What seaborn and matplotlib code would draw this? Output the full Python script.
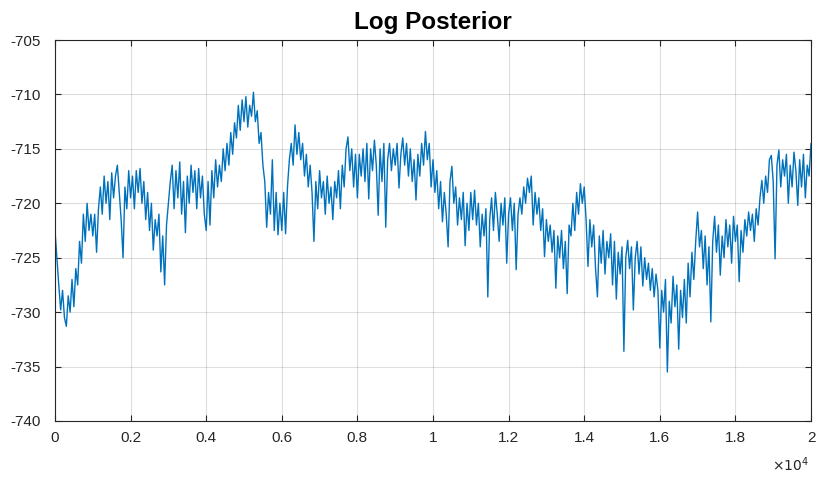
import numpy as np
import pandas as pd
import matplotlib
matplotlib.use("Agg")
import matplotlib.pyplot as plt
import seaborn as sns

# ---- data (one value every 50 iterations) ----
step = 50
log_post = [
    # 0 - 950
    -722.5, -725.0, -727.5, -729.8, -728.0, -730.5, -731.3, -728.5, -730.0, -727.0,
    -729.5, -726.0, -727.5, -723.5, -725.5, -721.0, -723.5, -720.0, -722.5, -721.0,
    # 1000 - 1950
    -723.0, -721.0, -724.5, -720.5, -718.5, -721.0, -717.5, -720.0, -718.0, -721.5,
    -717.2, -719.5, -717.5, -716.5, -719.0, -721.5, -725.0, -718.5, -720.5, -717.0,
    # 2000 - 2950
    -719.5, -717.5, -720.5, -717.0, -719.0, -716.8, -720.0, -718.0, -721.5, -719.0,
    -722.5, -720.0, -724.3, -721.5, -723.0, -721.0, -726.3, -723.0, -727.5, -722.0,
    # 3000 - 3950
    -720.0, -718.0, -716.5, -720.5, -717.0, -719.5, -716.2, -721.0, -718.0, -722.7,
    -717.5, -720.0, -716.5, -719.0, -717.0, -720.5, -716.8, -719.5, -717.5, -721.0,
    # 4000 - 4950
    -722.5, -718.0, -722.0, -717.0, -719.5, -716.0, -718.5, -716.5, -718.0, -715.0,
    -717.0, -714.5, -716.5, -713.5, -715.5, -712.6, -714.0, -711.0, -713.3, -710.5,
    # 5000 - 5950
    -712.5, -710.2, -713.0, -711.0, -712.0, -709.8, -712.5, -711.5, -714.5, -713.5,
    -716.5, -718.0, -722.2, -719.0, -721.0, -716.0, -722.5, -719.0, -722.9, -720.0,
    # 6000 - 6950
    -722.5, -719.0, -722.8, -718.5, -716.0, -714.5, -716.5, -712.8, -715.5, -713.5,
    -716.0, -714.5, -717.5, -715.5, -718.5, -716.5, -719.0, -723.5, -718.0, -720.5,
    # 7000 - 7950
    -717.0, -719.5, -718.0, -721.0, -717.5, -720.0, -718.5, -721.5, -718.0, -719.5,
    -717.0, -720.5, -716.5, -718.5, -715.0, -713.9, -717.0, -715.0, -718.5, -715.5,
    # 8000 - 8950
    -719.5, -715.5, -717.5, -715.0, -718.0, -714.5, -719.6, -715.0, -717.0, -714.2,
    -716.5, -721.1, -715.0, -718.0, -714.5, -722.2, -716.0, -714.5, -717.0, -715.0,
    # 9000 - 9950
    -716.5, -714.5, -718.6, -715.5, -714.0, -716.5, -714.5, -717.5, -715.0, -718.0,
    -716.0, -719.7, -715.5, -717.5, -714.5, -716.5, -713.4, -716.0, -714.5, -718.5,
    # 10000 - 10950
    -716.0, -719.0, -717.0, -720.5, -718.0, -721.7, -719.0, -721.0, -724.0, -718.0,
    -716.6, -720.0, -718.5, -722.0, -719.5, -721.5, -719.0, -723.9, -720.0, -722.5,
    # 11000 - 11950
    -719.0, -721.5, -718.8, -722.0, -720.0, -724.0, -721.0, -723.0, -720.5, -728.6,
    -721.5, -719.5, -722.5, -719.0, -721.0, -723.5, -720.0, -722.0, -719.5, -725.5,
    # 12000 - 12950
    -721.0, -719.5, -722.5, -720.0, -726.1, -721.0, -719.5, -721.0, -718.5, -720.0,
    -717.7, -719.0, -717.5, -722.0, -719.0, -721.0, -719.5, -722.5, -720.5, -724.9,
    # 13000 - 13950
    -721.5, -723.5, -722.0, -724.5, -722.5, -727.8, -723.0, -725.0, -722.5, -726.0,
    -723.5, -728.3, -722.0, -723.0, -720.0, -722.5, -719.0, -721.0, -718.2, -720.0,
    # 14000 - 14950
    -718.5, -721.5, -725.8, -721.5, -724.0, -722.0, -726.0, -728.6, -723.0, -725.5,
    -722.5, -726.5, -723.5, -725.0, -722.8, -727.5, -723.5, -728.8, -724.5, -726.5,
    # 15000 - 15950
    -724.0, -733.6, -725.0, -723.4, -726.0, -724.0, -729.8, -725.0, -723.5, -726.5,
    -724.0, -727.6, -725.0, -727.0, -725.5, -728.0, -726.0, -728.6, -726.5, -728.0,
    # 16000 - 16950
    -733.3, -728.0, -730.0, -727.0, -735.5, -729.0, -731.0, -726.7, -729.5, -727.5,
    -733.4, -728.0, -730.5, -727.0, -731.0, -725.5, -728.6, -724.5, -727.0, -723.5,
    # 17000 - 17950
    -720.8, -724.0, -722.5, -726.0, -723.0, -727.5, -724.0, -730.9, -723.5, -721.2,
    -724.5, -722.0, -726.6, -723.0, -725.0, -721.5, -724.0, -722.0, -725.5, -721.2,
    # 18000 - 18950
    -723.5, -722.0, -727.2, -722.5, -724.5, -721.5, -723.0, -720.8, -722.5, -721.0,
    -723.5, -720.5, -722.0, -719.5, -717.9, -720.0, -717.5, -719.0, -716.0, -715.6,
    # 19000 - 20000
    -718.0, -725.1, -716.5, -715.1, -718.5, -716.0, -717.5, -715.5, -720.0, -716.5,
    -718.5, -715.3, -717.0, -720.2, -716.0, -718.5, -715.5, -719.5, -716.5, -717.5,
    -714.5,
]
iterations = np.arange(len(log_post)) * step

x_ticks = [0, 2000, 4000, 6000, 8000, 10000, 12000, 14000, 16000, 18000, 20000]
x_tick_labels = ["0", "0.2", "0.4", "0.6", "0.8", "1", "1.2", "1.4", "1.6", "1.8", "2"]
y_ticks = [-740, -735, -730, -725, -720, -715, -710, -705]
title = "Log Posterior"

df = pd.DataFrame({"iter": iterations, "logp": log_post})

sns.set_style("white")
plt.rcParams["font.family"] = ["Liberation Sans", "DejaVu Sans"]
plt.rcParams["axes.unicode_minus"] = False

fig = plt.figure(figsize=(8.19, 4.78), dpi=100)
ax = fig.add_axes([55 / 819, 57 / 478, 756 / 819, 381 / 478])

sns.lineplot(data=df, x="iter", y="logp", ax=ax, color="#0072BD", linewidth=1.0)

ax.set_xlim(0, 20000)
ax.set_ylim(-740, -705)
ax.set_xticks(x_ticks)
ax.set_xticklabels(x_tick_labels)
ax.set_yticks(y_ticks)
ax.set_xlabel("")
ax.set_ylabel("")

edge = "#262626"
for s in ax.spines.values():
    s.set_visible(True)
    s.set_color(edge)
    s.set_linewidth(0.8)

ax.grid(True, color="#262626", alpha=0.15, linewidth=0.8)
ax.set_axisbelow(True)
ax.tick_params(axis="both", direction="in", length=4, width=0.8, color=edge,
               labelcolor=edge, labelsize=11, top=True, right=True,
               bottom=True, left=True)
ax.tick_params(axis="x", pad=7)
ax.tick_params(axis="y", pad=10)

ax.set_title(title, fontsize=17.5, fontweight="bold", color="black", pad=8)

fig.text(790 / 819, 1 - 465 / 478, r"$\times10^{4}$", fontsize=10, color=edge,
         ha="center", va="center")

fig.savefig("out.png", dpi=100, facecolor="white")
